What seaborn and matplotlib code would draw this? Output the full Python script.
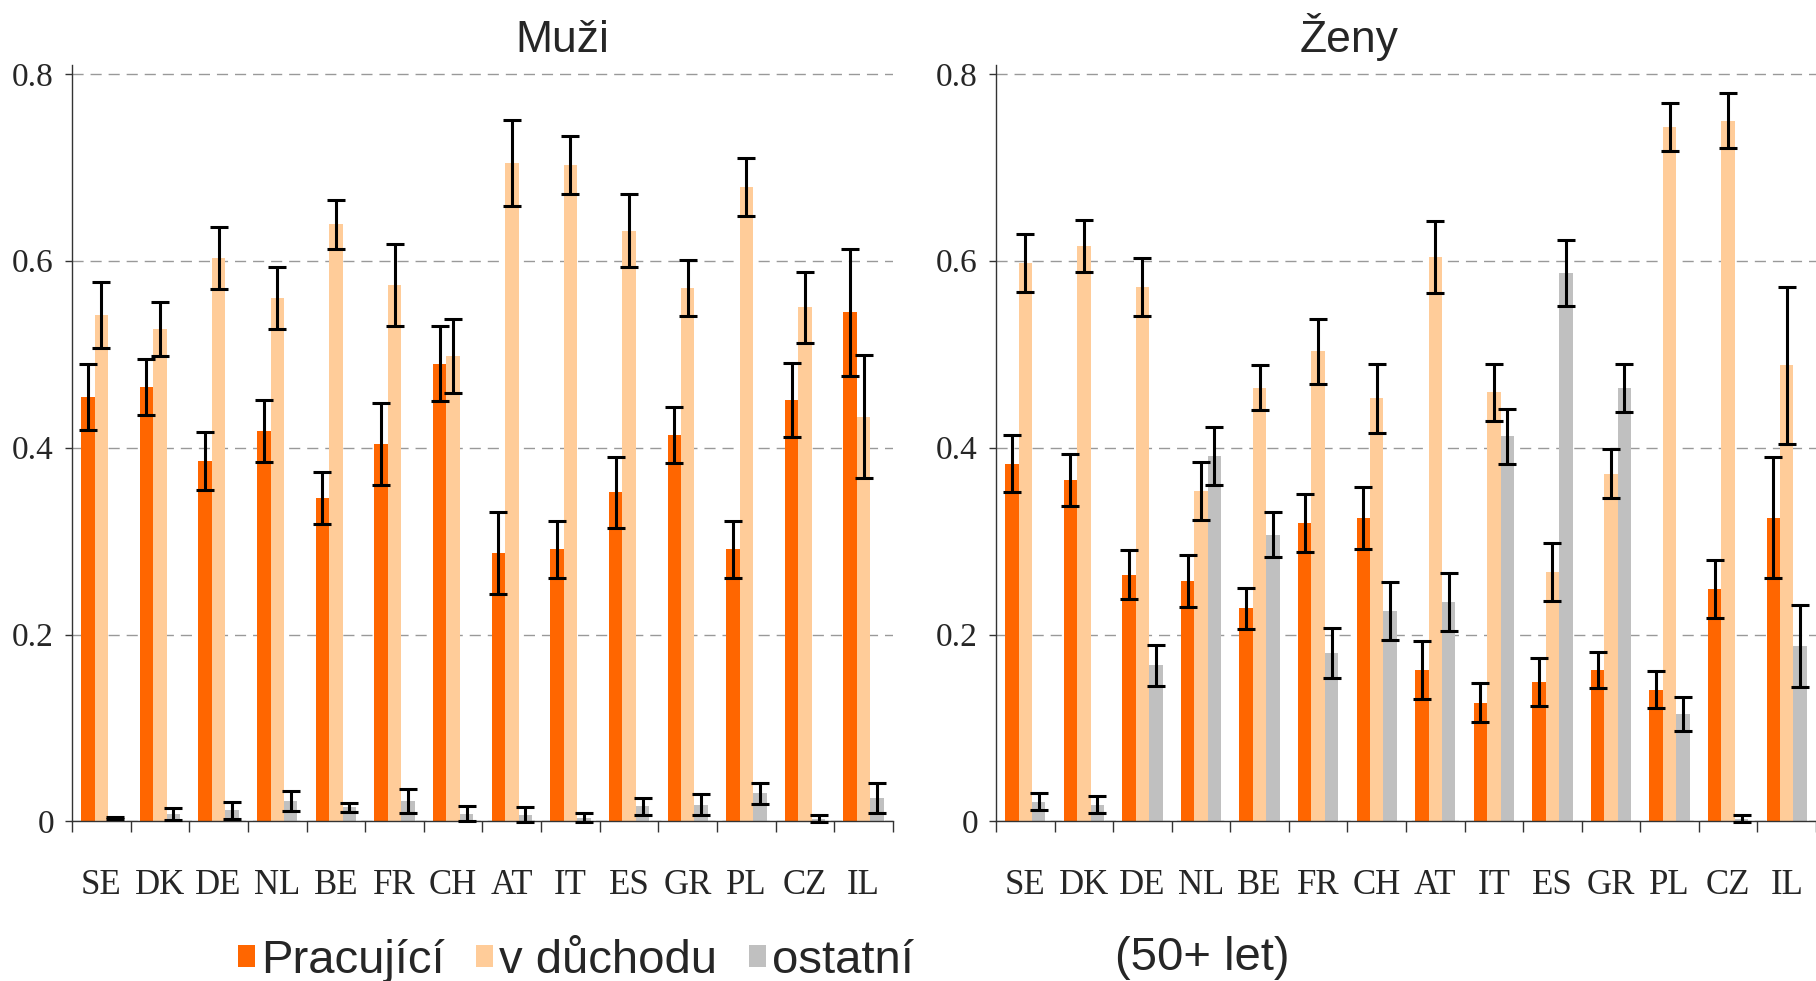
import matplotlib
matplotlib.use("Agg")
import matplotlib.pyplot as plt
from matplotlib.patches import Patch
import seaborn as sns
import pandas as pd
import numpy as np

countries = ["SE", "DK", "DE", "NL", "BE", "FR", "CH", "AT", "IT", "ES", "GR", "PL", "CZ", "IL"]
groups = ["Pracující", "v důchodu", "ostatní"]
colors = ["#FF6600", "#FFCC99", "#C0C0C0"]

# muzi - podily a polovina intervalu
muzi_prac = [0.454, 0.465, 0.386, 0.418, 0.346, 0.404, 0.490, 0.287, 0.291, 0.352, 0.414, 0.291, 0.451, 0.545]
muzi_prac_err = [0.035, 0.030, 0.031, 0.033, 0.028, 0.044, 0.040, 0.044, 0.031, 0.038, 0.030, 0.031, 0.040, 0.068]
muzi_duch = [0.542, 0.527, 0.603, 0.560, 0.639, 0.574, 0.498, 0.705, 0.702, 0.632, 0.571, 0.679, 0.550, 0.433]
muzi_duch_err = [0.035, 0.029, 0.033, 0.033, 0.026, 0.044, 0.040, 0.046, 0.031, 0.039, 0.030, 0.031, 0.038, 0.066]
muzi_ost = [0.004, 0.008, 0.012, 0.022, 0.015, 0.022, 0.008, 0.007, 0.004, 0.016, 0.018, 0.030, 0.003, 0.025]
muzi_ost_err = [0.001, 0.006, 0.009, 0.011, 0.005, 0.013, 0.008, 0.008, 0.005, 0.009, 0.011, 0.011, 0.004, 0.016]

# zeny
zeny_prac = [0.383, 0.365, 0.264, 0.257, 0.228, 0.319, 0.325, 0.162, 0.127, 0.149, 0.162, 0.141, 0.249, 0.325]
zeny_prac_err = [0.031, 0.028, 0.026, 0.028, 0.022, 0.031, 0.033, 0.031, 0.021, 0.026, 0.019, 0.020, 0.031, 0.065]
zeny_duch = [0.598, 0.616, 0.572, 0.354, 0.464, 0.503, 0.453, 0.604, 0.459, 0.267, 0.372, 0.743, 0.750, 0.488]
zeny_duch_err = [0.031, 0.028, 0.031, 0.031, 0.024, 0.035, 0.037, 0.039, 0.031, 0.031, 0.026, 0.026, 0.029, 0.084]
zeny_ost = [0.021, 0.018, 0.167, 0.391, 0.307, 0.180, 0.225, 0.235, 0.412, 0.587, 0.464, 0.115, 0.003, 0.188]
zeny_ost_err = [0.009, 0.009, 0.022, 0.031, 0.024, 0.027, 0.031, 0.031, 0.029, 0.035, 0.026, 0.018, 0.004, 0.044]

yticks = [0, 0.2, 0.4, 0.6, 0.8]
ytick_labels = ["0", "0.2", "0.4", "0.6", "0.8"]

sns.set_style("white")
plt.rcParams["font.family"] = ["Liberation Serif", "DejaVu Serif"]

W, H = 1816, 981


def to_frame(series):
    rows = []
    for g, vals in zip(groups, series):
        for c, v in zip(countries, vals):
            rows.append({"zeme": c, "skupina": g, "podil": v})
    return pd.DataFrame(rows)


def panel(ax, values, errors):
    df = to_frame(values)
    sns.barplot(data=df, x="zeme", y="podil", hue="skupina", order=countries,
                hue_order=groups, palette=colors, saturation=1, width=0.69,
                gap=0, errorbar=None, legend=False, linewidth=0, ax=ax)
    for cont, err in zip(ax.containers, errors):
        xs = [b.get_x() + b.get_width() / 2 for b in cont]
        ys = [b.get_height() for b in cont]
        ax.errorbar(xs, ys, yerr=err, fmt="none", ecolor="black",
                    elinewidth=2.2, capsize=6.5, capthick=2.2, zorder=4,
                    clip_on=False)

    ax.set_xlim(-0.5, 13.5)
    ax.set_ylim(0, 0.81)
    ax.set_xlabel("")
    ax.set_ylabel("")
    ax.set_axisbelow(True)
    ax.yaxis.grid(True, linestyle=(0, (8, 5)), color="#999999", linewidth=1)
    ax.xaxis.grid(False)
    for s in ["top", "right"]:
        ax.spines[s].set_visible(False)
    for s in ["left", "bottom"]:
        ax.spines[s].set_color("#333333")
        ax.spines[s].set_linewidth(1)

    ax.set_yticks(yticks)
    ax.set_yticklabels(ytick_labels)
    ax.tick_params(axis="y", length=5, width=1, color="#333333", pad=8,
                   labelsize=24, left=True, direction="out")
    ax.set_xticks(range(len(countries)))
    ax.set_xticklabels(countries)
    ax.set_xticks(np.arange(-0.5, len(countries), 1), minor=True)
    ax.tick_params(axis="x", which="major", length=0, pad=34, labelsize=25)
    ax.tick_params(axis="x", which="minor", length=8, width=1,
                   color="#333333", bottom=True, direction="out")


fig = plt.figure(figsize=(W / 100, H / 100), dpi=100)
bottom = 1 - 821.4 / H
height = (821.4 - 64.5) / H
ax1 = fig.add_axes([72 / W, bottom, 821 / W, height])
ax2 = fig.add_axes([996 / W, bottom, 820 / W, height])

panel(ax1, [muzi_prac, muzi_duch, muzi_ost], [muzi_prac_err, muzi_duch_err, muzi_ost_err])
panel(ax2, [zeny_prac, zeny_duch, zeny_ost], [zeny_prac_err, zeny_duch_err, zeny_ost_err])

sans = ["Liberation Sans", "DejaVu Sans"]
fig.text(562 / W, 1 - 52 / H, "Muži", ha="center", va="baseline", fontsize=32, family=sans)
fig.text(1349 / W, 1 - 52 / H, "Ženy", ha="center", va="baseline", fontsize=32, family=sans)

handles = [Patch(facecolor=c, edgecolor="none", label=g) for c, g in zip(colors, groups)]
fig.legend(handles=handles, loc="center left", bbox_to_anchor=(238 / W, 1 - 961 / H),
           ncol=3, frameon=False, prop={"family": sans, "size": 34},
           handlelength=0.36, handleheight=0.36, handletextpad=0.12,
           columnspacing=0.68, borderpad=0, borderaxespad=0)
fig.text(1115 / W, 1 - 970 / H, "(50+ let)", ha="left", va="baseline", fontsize=34, family=sans)

fig.savefig("out.png", dpi=100)
